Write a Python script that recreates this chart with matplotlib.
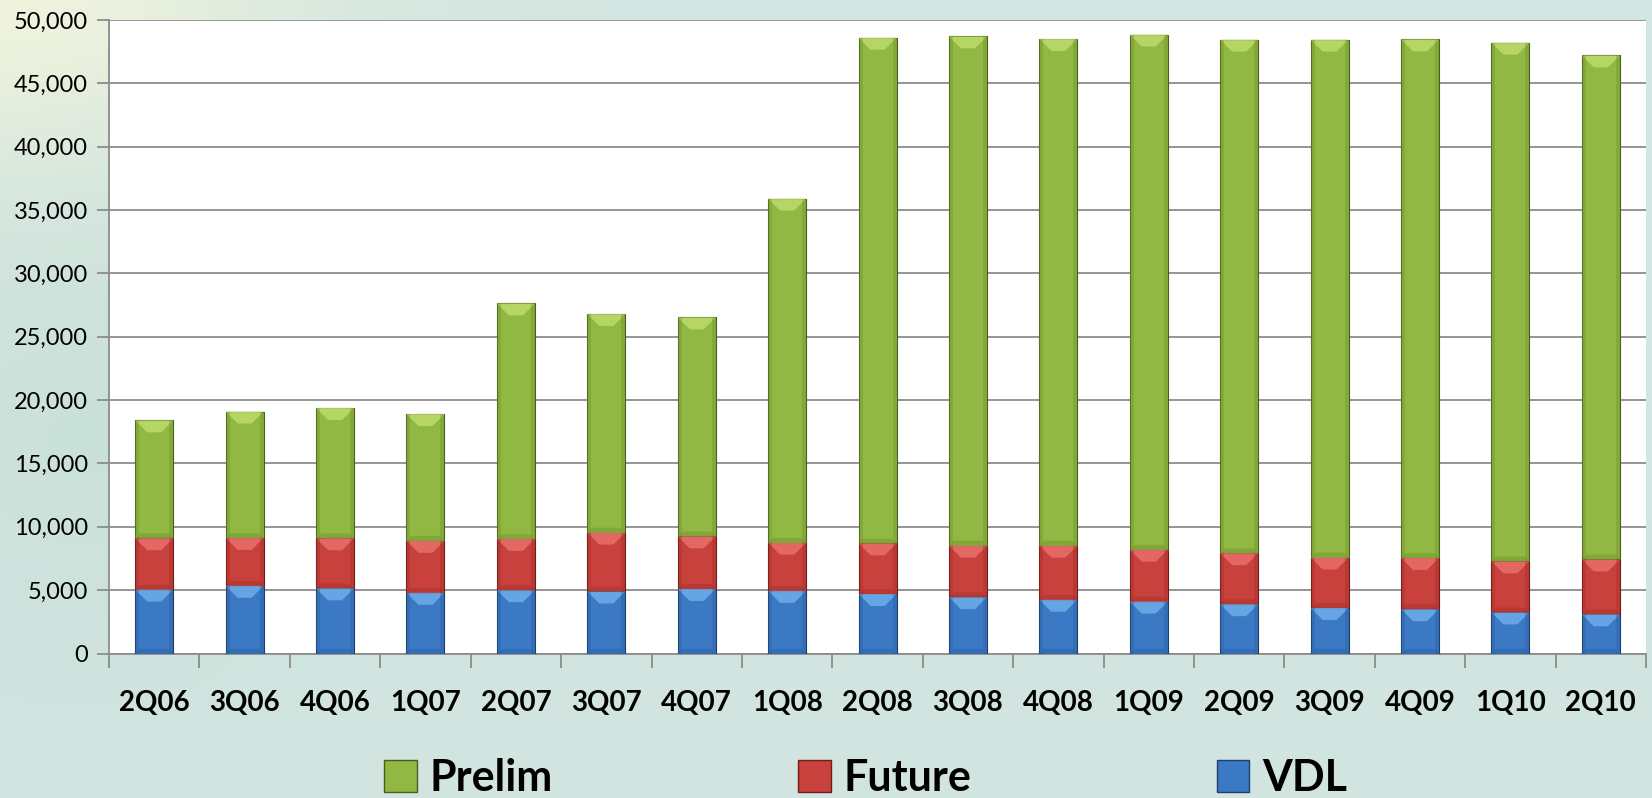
import numpy as np
import matplotlib.pyplot as plt
from matplotlib.patches import Patch, Polygon

quarters = ["2Q06", "3Q06", "4Q06", "1Q07", "2Q07", "3Q07", "4Q07", "1Q08", "2Q08",
            "3Q08", "4Q08", "1Q09", "2Q09", "3Q09", "4Q09", "1Q10", "2Q10"]
vdl = [5050, 5350, 5150, 4800, 5000, 4900, 5100, 4950, 4700,
       4450, 4250, 4100, 3900, 3600, 3500, 3250, 3100]
future = [4050, 3780, 3950, 4100, 4050, 4650, 4150, 3800, 4000,
          4070, 4270, 4100, 4020, 3980, 4050, 4030, 4330]
prelim = [9300, 9970, 10280, 10000, 18580, 17240, 17280, 27150, 39900,
          40180, 39980, 40650, 40530, 40870, 40920, 40930, 39770]

# body, light top bevel, dark shading, edge
styles = {
    "VDL": ("#3b79c4", "#6eadea", "#2b5c9c", "#1f3f6b"),
    "Future": ("#c9413c", "#e8706a", "#9f2b28", "#6e1d1b"),
    "Prelim": ("#90b842", "#bcdc6c", "#6f8f2c", "#4a5f1d"),
}

fig = plt.figure(figsize=(16.52, 7.98), dpi=100)

# soft pale backdrop behind the whole figure
bg = fig.add_axes([0, 0, 1, 1], zorder=-10)
yy, xx = np.mgrid[0:1:200j, 0:1:400j]
base = np.array([0.83, 0.90, 0.88])
img = np.ones((200, 400, 3)) * base
warm = np.exp(-((xx - 0.0) ** 2 / 0.03 + (yy - 0.0) ** 2 / 0.05))[..., None]
img = img * (1 - warm) + np.array([0.94, 0.955, 0.87]) * warm
teal = np.exp(-((xx - 0.05) ** 2 / 0.02 + (yy - 0.55) ** 2 / 0.08))[..., None]
img = img * (1 - 0.6 * teal) + np.array([0.77, 0.87, 0.83]) * 0.6 * teal
img = img * (1 - 0.3 * yy[..., None]) + np.array([0.80, 0.89, 0.88]) * 0.3 * yy[..., None]
bg.imshow(img, aspect="auto", extent=[0, 1, 1, 0])
bg.axis("off")

ax = fig.add_axes([0.066, 0.181, 0.9304, 0.794])
ax.set_facecolor("white")

x = np.arange(len(quarters))
width = 0.42
bottom = np.zeros(len(quarters))
containers = {}
for name, vals in [("VDL", vdl), ("Future", future), ("Prelim", prelim)]:
    body, top, low, edge = styles[name]
    containers[name] = ax.bar(x, vals, width, bottom=bottom, color=body,
                              edgecolor=edge, linewidth=0.8, zorder=3)
    bottom = bottom + np.array(vals)

ax.set_xlim(-0.5, len(quarters) - 0.5)
ax.set_ylim(0, 50000)

# bevelled look on each segment
ax_h_px = 0.794 * 798
ax_w_px = 0.9304 * 1652
depth = 12 * 50000 / ax_h_px
inset = 12 * len(quarters) / ax_w_px
side = 4 * len(quarters) / ax_w_px
for name, bars in containers.items():
    body, top, low, edge = styles[name]
    for r in bars:
        x0, y0 = r.get_x(), r.get_y()
        w, h = r.get_width(), r.get_height()
        ax.add_patch(Polygon([(x0, y0 + h), (x0 + w, y0 + h),
                              (x0 + w - inset, y0 + h - depth),
                              (x0 + inset, y0 + h - depth)],
                             closed=True, color=top, lw=0, alpha=0.85, zorder=4))
        for sx in (x0, x0 + w - side):
            ax.add_patch(Polygon([(sx, y0), (sx + side, y0),
                                  (sx + side, y0 + h), (sx, y0 + h)],
                                 closed=True, color=low, lw=0, alpha=0.35, zorder=4))
        ax.add_patch(Polygon([(x0, y0), (x0 + w, y0),
                              (x0 + w - inset * 0.4, y0 + depth * 0.4),
                              (x0 + inset * 0.4, y0 + depth * 0.4)],
                             closed=True, color=low, lw=0, alpha=0.4, zorder=4))

ax.set_yticks(np.arange(0, 50001, 5000))
ax.set_yticklabels([f"{v:,}" for v in range(0, 50001, 5000)],
                   fontsize=17, family="Lato")
ax.yaxis.grid(True, color="#8c8c8c", linewidth=1.3, zorder=0)
ax.set_axisbelow(True)

ax.set_xticks(x)
ax.set_xticklabels(quarters, fontsize=20, fontweight="bold", family="Lato")
ax.set_xticks(np.arange(-0.5, len(quarters)), minor=True)
ax.tick_params(axis="x", which="major", length=0, pad=26)
ax.tick_params(axis="x", which="minor", length=10, width=1.3, color="#8c8c8c")
ax.tick_params(axis="y", length=9, width=1.3, color="#8c8c8c", pad=6)

for s in ["top", "right"]:
    ax.spines[s].set_visible(False)
for s in ["left", "bottom"]:
    ax.spines[s].set_color("#8c8c8c")
    ax.spines[s].set_linewidth(1.3)

handles = [Patch(facecolor=styles[n][0], edgecolor=styles[n][3], label=n)
           for n in ["Prelim", "Future", "VDL"]]
fig.legend(handles=handles, loc="lower center", ncol=3, frameon=False,
           bbox_to_anchor=(0.524, 0.0), borderaxespad=0.0, borderpad=0.0,
           prop={"family": "Lato", "weight": "bold", "size": 31},
           columnspacing=5.7, handlelength=0.75, handleheight=0.75,
           handletextpad=0.3)

fig.savefig("out.png", dpi=100)
